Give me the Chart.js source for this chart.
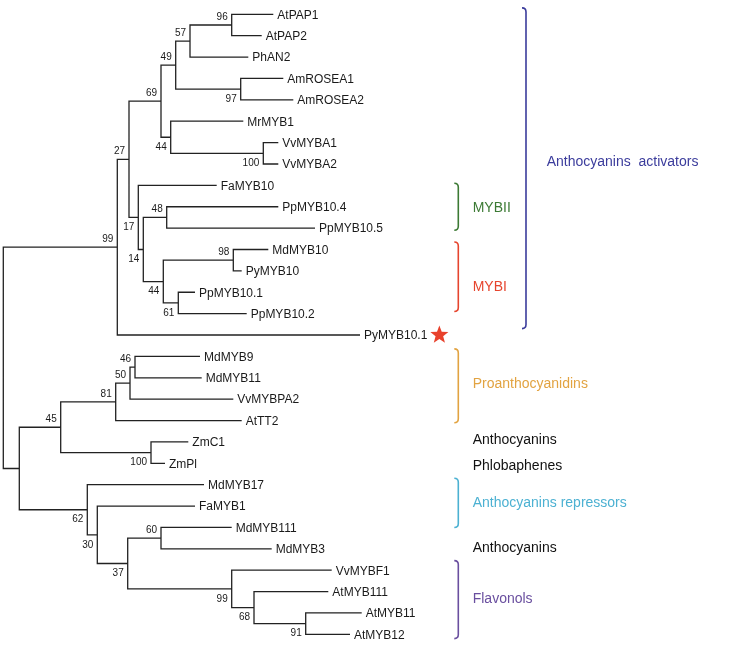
<!DOCTYPE html>
<html>
<head>
<meta charset="utf-8">
<script src="https://cdn.jsdelivr.net/npm/chart.js@4"></script>
<style>
  html, body { margin: 0; padding: 0; background: #fff; }
  #wrap { width: 750px; height: 660px; position: relative; }
</style>
</head>
<body>
<div id="wrap"><canvas id="treeChart"></canvas></div>
<script>
// Leaves, top to bottom, with the depth of each tip
var leafNames = ['AtPAP1', 'AtPAP2', 'PhAN2', 'AmROSEA1', 'AmROSEA2', 'MrMYB1', 'VvMYBA1', 'VvMYBA2',
  'FaMYB10', 'PpMYB10.4', 'PpMYB10.5', 'MdMYB10', 'PyMYB10', 'PpMYB10.1', 'PpMYB10.2', 'PyMYB10.1',
  'MdMYB9', 'MdMYB11', 'VvMYBPA2', 'AtTT2', 'ZmC1', 'ZmPl', 'MdMYB17', 'FaMYB1', 'MdMYB111', 'MdMYB3',
  'VvMYBF1', 'AtMYB111', 'AtMYB11', 'AtMYB12'];
var tipDepth = [270, 258.4, 245, 280, 290, 240, 275, 275,
  213.4, 275, 311.7, 265, 238.4, 191.7, 243.4, 356.7,
  196.7, 198.4, 230, 238.4, 185, 161.7, 200.7, 191.7, 228.4, 268.4,
  328.4, 325, 358.4, 346.7];

// Internal nodes: name, depth, two children, bootstrap support
var nodeNames = ['PAP', 'n57', 'ROSEA', 'n49', 'VvA', 'n44a', 'n69', 'n48', 'n98', 'n61', 'n44b', 'n14',
  'n17', 'n27', 'n99a', 'n46', 'n50', 'n81', 'Zm', 'n45', 'n60', 'n91', 'n68', 'n99b', 'n37', 'n30', 'n62',
  'lower', 'root'];
var nodeDepth = [228.4, 186.7, 237.4, 172.4, 260, 167.4, 157.7, 163.4, 230, 175, 160, 140,
  135, 125.7, 114, 131.7, 126.7, 112.4, 147.7, 57.4, 157.7, 302.4, 250.7, 228.4, 124.4, 94, 84,
  16, 0];
var nodeChildren = [
  ['AtPAP1', 'AtPAP2'], ['PAP', 'PhAN2'], ['AmROSEA1', 'AmROSEA2'], ['n57', 'ROSEA'],
  ['VvMYBA1', 'VvMYBA2'], ['MrMYB1', 'VvA'], ['n49', 'n44a'], ['PpMYB10.4', 'PpMYB10.5'],
  ['MdMYB10', 'PyMYB10'], ['PpMYB10.1', 'PpMYB10.2'], ['n98', 'n61'], ['n48', 'n44b'],
  ['FaMYB10', 'n14'], ['n69', 'n17'], ['n27', 'PyMYB10.1'], ['MdMYB9', 'MdMYB11'],
  ['n46', 'VvMYBPA2'], ['n50', 'AtTT2'], ['ZmC1', 'ZmPl'], ['n81', 'Zm'],
  ['MdMYB111', 'MdMYB3'], ['AtMYB11', 'AtMYB12'], ['AtMYB111', 'n91'], ['VvMYBF1', 'n68'],
  ['n60', 'n99b'], ['FaMYB1', 'n37'], ['MdMYB17', 'n30'], ['n45', 'n62'], ['n99a', 'lower']];
var nodeSupport = [96, 57, 97, 49, 100, 44, 69, 48, 98, 61, 44, 14,
  17, 27, 99, 46, 50, 81, 100, 45, 60, 91, 68, 99, 37, 30, 62, null, null];
var supportBelow = [false, false, true, false, true, true, false, false, false, true, true, true,
  true, false, false, false, false, false, true, false, false, true, true, true, true, true, true, false, false];

// Functional groups on the right (leaf-row units)
var groupNames = ['Anthocyanins  activators', 'MYBII', 'MYBI', 'Proanthocyanidins', 'Anthocyanins',
  'Phlobaphenes', 'Anthocyanins repressors', 'Anthocyanins', 'Flavonols'];
var groupStart = [-0.3, 7.9, 10.65, 15.65, null, null, 21.7, null, 25.55];
var groupEnd = [14.7, 10.1, 13.9, 19.1, null, null, 24.0, null, 29.2];
var groupTextRow = [6.92, 9.05, 12.77, 17.29, 19.91, 21.13, 22.87, 24.98, 27.36];
var groupColors = ['#3b3c9c', '#3c7a34', '#e6452e', '#e2a341', '#111111', '#111111', '#4cb1d2', '#111111', '#6a4f9f'];
var starLeaf = 'PyMYB10.1';

// ---- tree layout from the arrays above ----
function rowOf(name) {
  var i = leafNames.indexOf(name);
  if (i >= 0) return i;
  var k = nodeNames.indexOf(name);
  return (rowOf(nodeChildren[k][0]) + rowOf(nodeChildren[k][1])) / 2;
}
function depthOf(name) {
  var i = leafNames.indexOf(name);
  if (i >= 0) return tipDepth[i];
  return nodeDepth[nodeNames.indexOf(name)];
}

var branchPts = [];
nodeNames.forEach(function (n, k) {
  var a = nodeChildren[k][0], b = nodeChildren[k][1];
  branchPts.push({x: depthOf(a), y: rowOf(a)});
  branchPts.push({x: nodeDepth[k], y: rowOf(a)});
  branchPts.push({x: nodeDepth[k], y: rowOf(b)});
  branchPts.push({x: depthOf(b), y: rowOf(b)});
  branchPts.push({x: NaN, y: NaN});
});

var treeText = {
  id: 'treeText',
  afterDatasetsDraw: function (chart) {
    var ctx = chart.ctx, xs = chart.scales.x, ys = chart.scales.y;
    ctx.save();
    ctx.textBaseline = 'middle';

    // leaf names
    ctx.font = '12px "Liberation Sans", Arial, sans-serif';
    ctx.textAlign = 'left';
    leafNames.forEach(function (name, i) {
      var px = xs.getPixelForValue(tipDepth[i]) + 4;
      var py = ys.getPixelForValue(i) + 1;
      ctx.fillStyle = '#1a1a1a';
      ctx.fillText(name, px, py);
      if (name === starLeaf) {
        var cx = px + ctx.measureText(name).width + 12;
        drawStar(ctx, cx, py - 1, 9.5, 4, '#e8412c');
      }
    });

    // bootstrap values
    ctx.font = '10px "Liberation Sans", Arial, sans-serif';
    ctx.textAlign = 'right';
    ctx.fillStyle = '#1a1a1a';
    nodeNames.forEach(function (n, k) {
      if (nodeSupport[k] === null) return;
      var px = xs.getPixelForValue(nodeDepth[k]) - 4;
      var py = ys.getPixelForValue(rowOf(n)) + (supportBelow[k] ? 10 : -8);
      ctx.fillText(String(nodeSupport[k]), px, py);
    });

    // groups
    ctx.textAlign = 'left';
    ctx.font = '14px "Liberation Sans", Arial, sans-serif';
    groupNames.forEach(function (g, k) {
      var outer = k === 0;
      var bx = xs.getPixelForValue(outer ? 522.7 : 455);
      var tx = xs.getPixelForValue(outer ? 543.4 : 469.4);
      ctx.fillStyle = groupColors[k];
      ctx.fillText(g, tx, ys.getPixelForValue(groupTextRow[k]));
      if (groupStart[k] === null) return;
      var y0 = ys.getPixelForValue(groupStart[k]);
      var y1 = ys.getPixelForValue(groupEnd[k]);
      ctx.strokeStyle = groupColors[k];
      ctx.lineWidth = 1.6;
      ctx.beginPath();
      ctx.moveTo(bx - 4, y0);
      ctx.quadraticCurveTo(bx, y0, bx, y0 + 4);
      ctx.lineTo(bx, y1 - 4);
      ctx.quadraticCurveTo(bx, y1, bx - 4, y1);
      ctx.stroke();
    });
    ctx.restore();
  }
};

function drawStar(ctx, cx, cy, rOut, rIn, color) {
  ctx.beginPath();
  for (var i = 0; i < 10; i++) {
    var r = i % 2 === 0 ? rOut : rIn;
    var a = -Math.PI / 2 + i * Math.PI / 5;
    ctx.lineTo(cx + r * Math.cos(a), cy + r * Math.sin(a));
  }
  ctx.closePath();
  ctx.fillStyle = color;
  ctx.fill();
}

var ctx = document.getElementById('treeChart').getContext('2d');
var treeChart = new Chart(ctx, {
  type: 'line',
  data: {
    datasets: [{
      label: 'branches',
      data: branchPts,
      borderColor: '#222222',
      borderWidth: 1.3,
      pointRadius: 0,
      tension: 0,
      spanGaps: false,
      fill: false
    }]
  },
  options: {
    responsive: true,
    maintainAspectRatio: false,
    animation: false,
    layout: { padding: 0 },
    plugins: {
      legend: { display: false },
      tooltip: { enabled: false }
    },
    scales: {
      x: { type: 'linear', display: false, min: -3.3, max: 746.7 },
      y: { type: 'linear', display: false, reverse: true, min: -0.67, max: 30.2 }
    }
  },
  plugins: [treeText]
});
</script>
</body>
</html>
